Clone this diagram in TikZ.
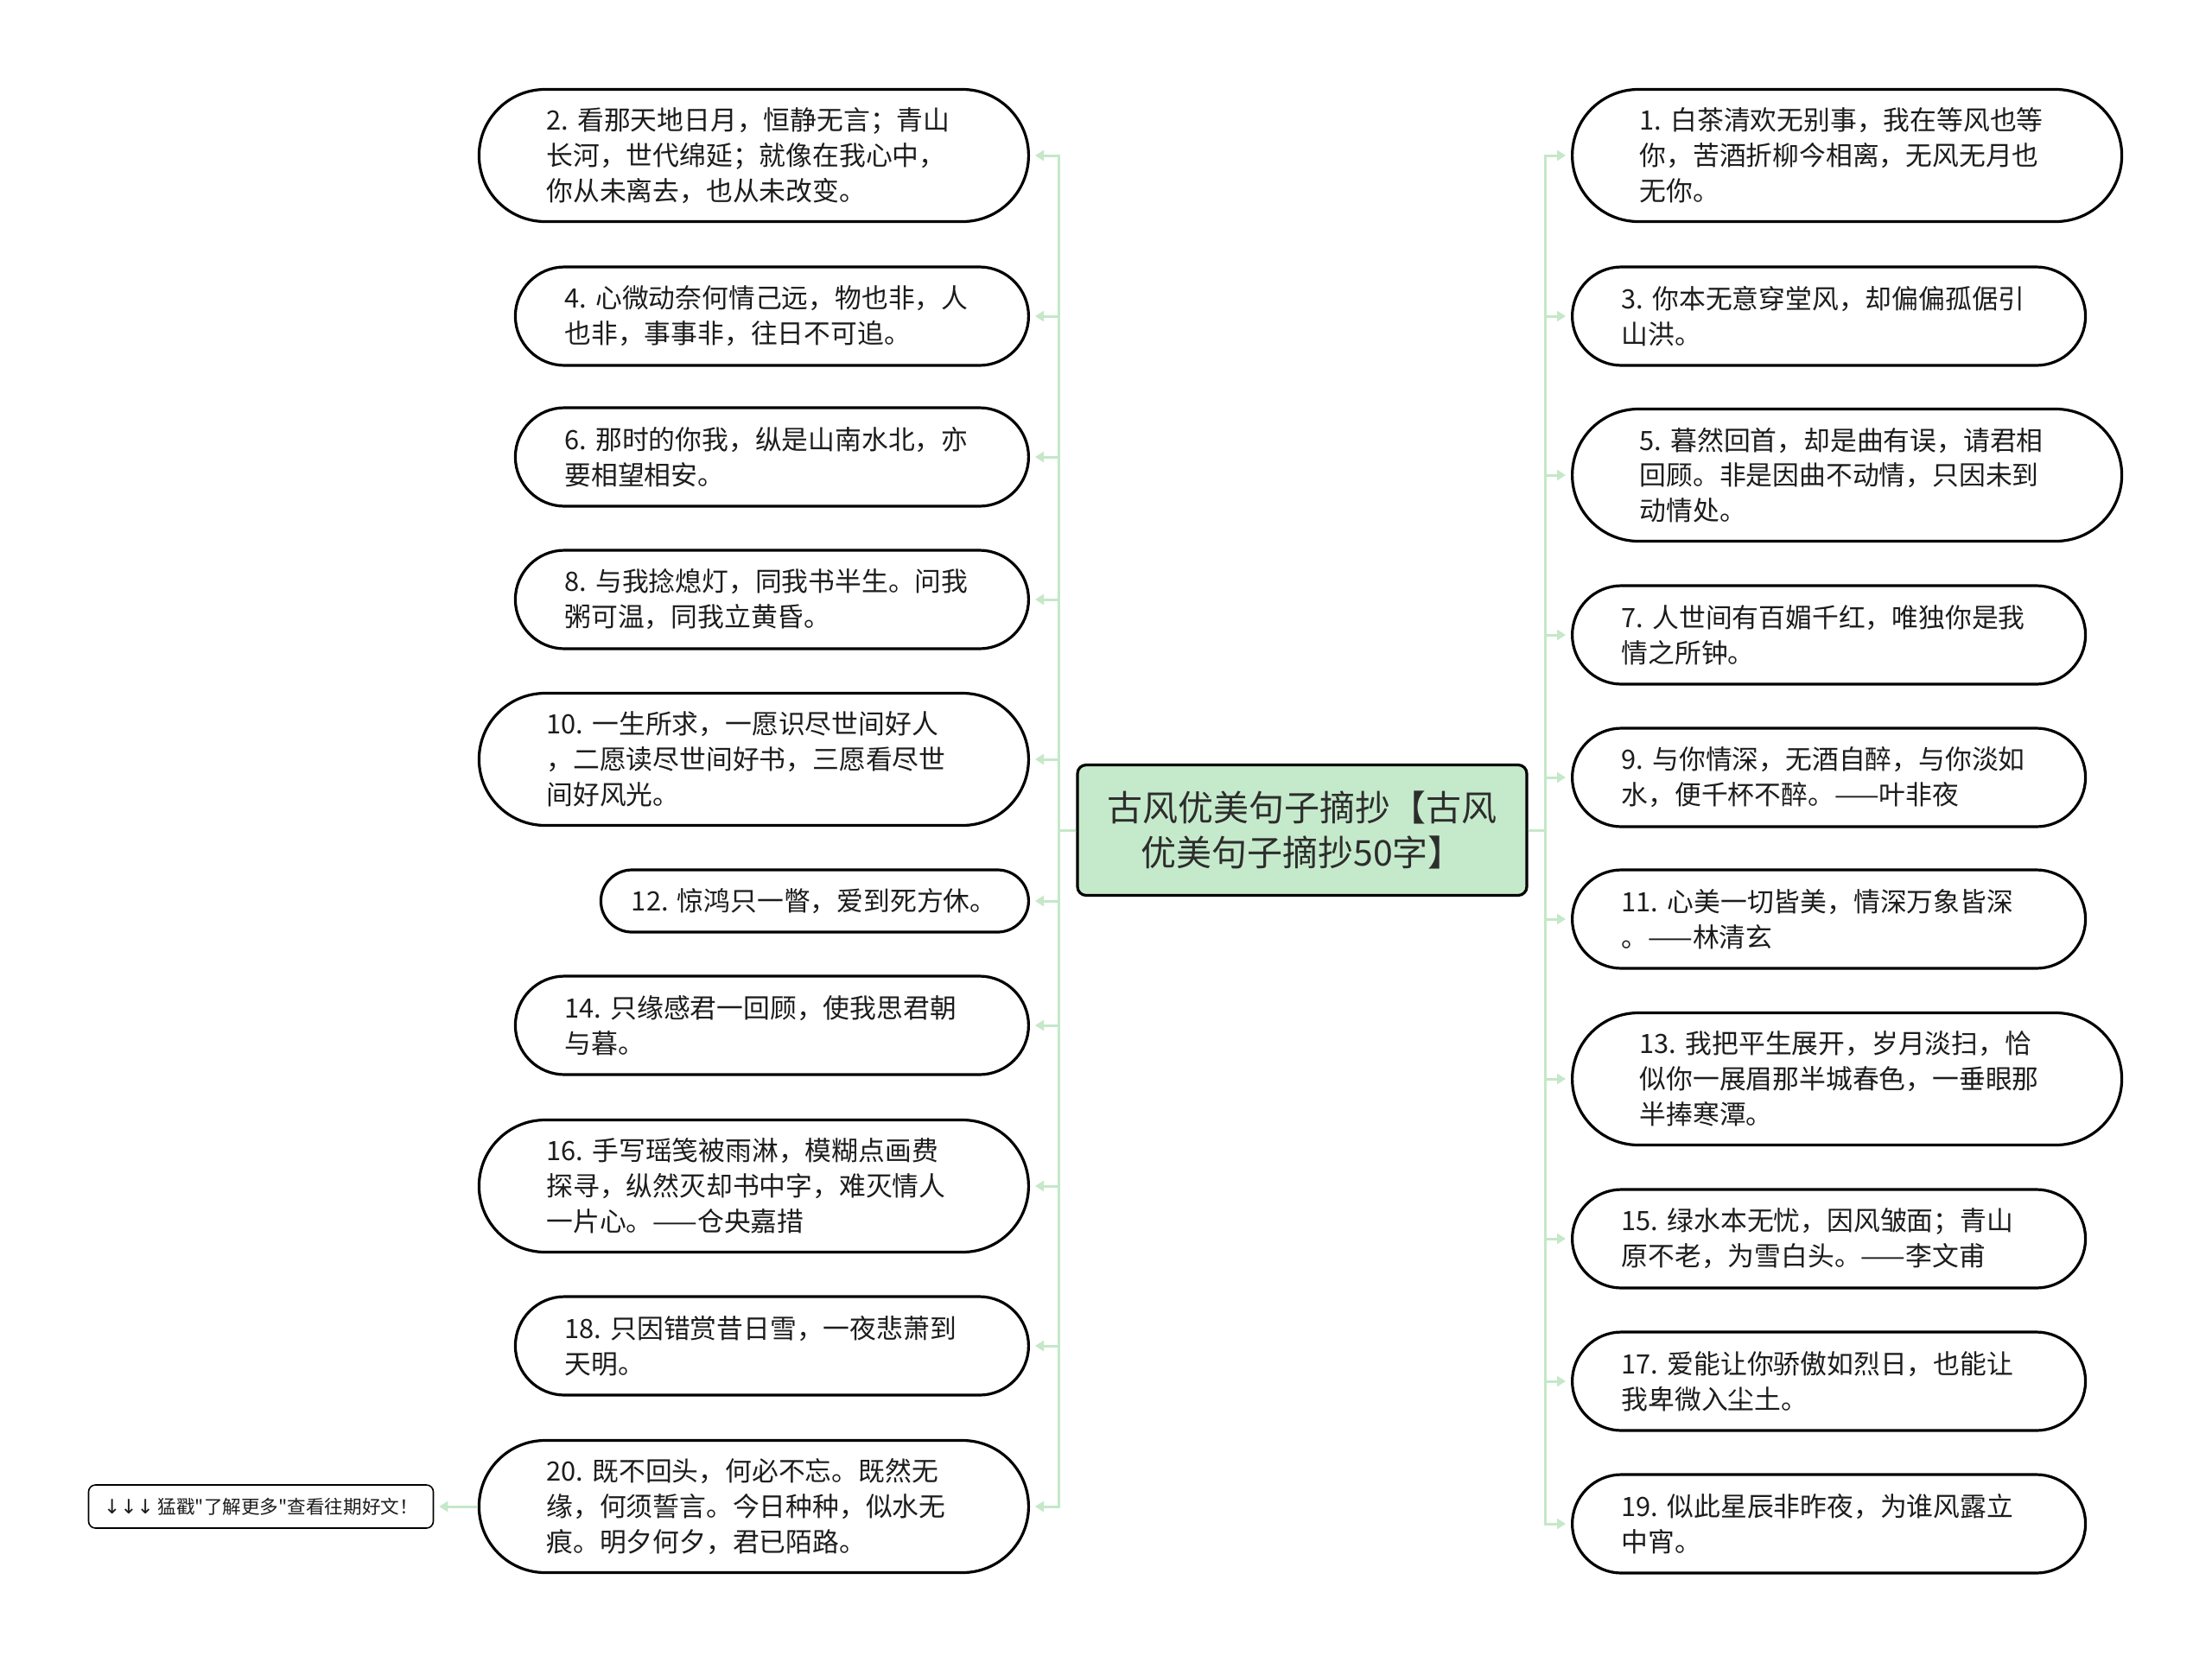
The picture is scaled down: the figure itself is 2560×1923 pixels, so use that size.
\documentclass[tikz,border=0pt]{standalone}
\usepackage{fontspec}
\newfontfamily\cjk{Noto Sans CJK SC}
\newfontfamily\arrowfont{DejaVu Sans}
\usetikzlibrary{shapes.misc,arrows.meta}
\definecolor{lg}{RGB}{197,234,203}
\definecolor{ln}{RGB}{196,232,200}
\definecolor{txt}{RGB}{28,28,28}
\definecolor{ctxt}{RGB}{45,45,45}
\begin{document}
\begin{tikzpicture}[x=0.5pt,y=-0.5pt,
  leaf/.style={rounded rectangle, draw=black, line width=1.6pt, fill=white, inner sep=0pt, text width=240pt, align=left, text=txt, font=\cjk\fontsize{15.4pt}{20.4pt}\selectfont\frenchspacing},
  hthree/.style={minimum height=76.5pt},
  htwo/.style={minimum height=57pt},
  hone/.style={minimum height=36pt},
  wwide/.style={minimum width=318pt},
  wnarrow/.style={minimum width=297pt},
  conn/.style={draw=ln, line width=1.5pt, -{Triangle[length=5pt,width=6pt]}, shorten >=3pt},
]
\fill[white] (0,0) rectangle (2560,1923);
\useasboundingbox (0,0) rectangle (2560,1923);

% central node
\node[draw=black, line width=1.6pt, fill=lg, rounded corners=5pt, minimum width=260pt, minimum height=75.5pt, align=center, text=ctxt, font=\cjk\fontsize{20.5pt}{26pt}\selectfont] (c) at (1507,961) {古风优美句子摘抄【古风\\优美句子摘抄50字】};

% left side
\node[leaf,hthree,wwide,anchor=east] (n2) at (1192,180) {2. 看那天地日月，恒静无言；青山\\长河，世代绵延；就像在我心中，\\你从未离去，也从未改变。};
\node[leaf,htwo,wnarrow,anchor=east] (n4) at (1192,366) {4. 心微动奈何情己远，物也非，人\\也非，事事非，往日不可追。};
\node[leaf,htwo,wnarrow,anchor=east] (n6) at (1192,529) {6. 那时的你我，纵是山南水北，亦\\要相望相安。};
\node[leaf,htwo,wnarrow,anchor=east] (n8) at (1192,694) {8. 与我捻熄灯，同我书半生。问我\\粥可温，同我立黄昏。};
\node[leaf,hthree,wwide,anchor=east] (n10) at (1192,879) {10. 一生所求，一愿识尽世间好人\\，二愿读尽世间好书，三愿看尽世\\间好风光。};
\node[leaf,hone,minimum width=247.5pt,text width=212pt,anchor=east] (n12) at (1192,1043) {12. 惊鸿只一瞥，爱到死方休。};
\node[leaf,htwo,wnarrow,anchor=east] (n14) at (1192,1187) {14. 只缘感君一回顾，使我思君朝\\与暮。};
\node[leaf,hthree,wwide,anchor=east] (n16) at (1192,1373) {16. 手写瑶笺被雨淋，模糊点画费\\探寻，纵然灭却书中字，难灭情人\\一片心。——仓央嘉措};
\node[leaf,htwo,wnarrow,anchor=east] (n18) at (1192,1558) {18. 只因错赏昔日雪，一夜悲萧到\\天明。};
\node[leaf,hthree,wwide,anchor=east] (n20) at (1192,1744) {20. 既不回头，何必不忘。既然无\\缘，何须誓言。今日种种，似水无\\痕。明夕何夕，君已陌路。};

% footer
\node[draw=black, line width=0.8pt, fill=white, rounded corners=4pt, minimum width=199.5pt, minimum height=25pt, inner sep=0pt, text=txt, font=\cjk\fontsize{10.8pt}{13pt}\selectfont] (f) at (302,1744) {{\arrowfont\fontsize{11.5pt}{13pt}\selectfont ↓↓↓} 猛戳"了解更多"查看往期好文！};

% right side
\node[leaf,hthree,wwide,anchor=west] (n1) at (1818,180) {1. 白茶清欢无别事，我在等风也等\\你，苦酒折柳今相离，无风无月也\\无你。};
\node[leaf,htwo,wnarrow,anchor=west] (n3) at (1818,366) {3. 你本无意穿堂风，却偏偏孤倨引\\山洪。};
\node[leaf,hthree,wwide,anchor=west] (n5) at (1818,550) {5. 暮然回首，却是曲有误，请君相\\回顾。非是因曲不动情，只因未到\\动情处。};
\node[leaf,htwo,wnarrow,anchor=west] (n7) at (1818,735) {7. 人世间有百媚千红，唯独你是我\\情之所钟。};
\node[leaf,htwo,wnarrow,anchor=west] (n9) at (1818,900) {9. 与你情深，无酒自醉，与你淡如\\水，便千杯不醉。——叶非夜};
\node[leaf,htwo,wnarrow,anchor=west] (n11) at (1818,1064) {11. 心美一切皆美，情深万象皆深\\。——林清玄};
\node[leaf,hthree,wwide,anchor=west] (n13) at (1818,1249) {13. 我把平生展开，岁月淡扫，恰\\似你一展眉那半城春色，一垂眼那\\半捧寒潭。};
\node[leaf,htwo,wnarrow,anchor=west] (n15) at (1818,1434) {15. 绿水本无忧，因风皱面；青山\\原不老，为雪白头。——李文甫};
\node[leaf,htwo,wnarrow,anchor=west] (n17) at (1818,1599) {17. 爱能让你骄傲如烈日，也能让\\我卑微入尘土。};
\node[leaf,htwo,wnarrow,anchor=west] (n19) at (1818,1764) {19. 似此星辰非昨夜，为谁风露立\\中宵。};

% connectors
\foreach \n in {n2,n4,n6,n8,n10,n12,n14,n16,n18,n20}
  \draw[conn] (c.west) -- ++(-20,0) |- (\n.east);
\foreach \n in {n1,n3,n5,n7,n9,n11,n13,n15,n17,n19}
  \draw[conn] (c.east) -- ++(20,0) |- (\n.west);
\draw[conn] (n20.west) -- (f.east);
\end{tikzpicture}
\end{document}
